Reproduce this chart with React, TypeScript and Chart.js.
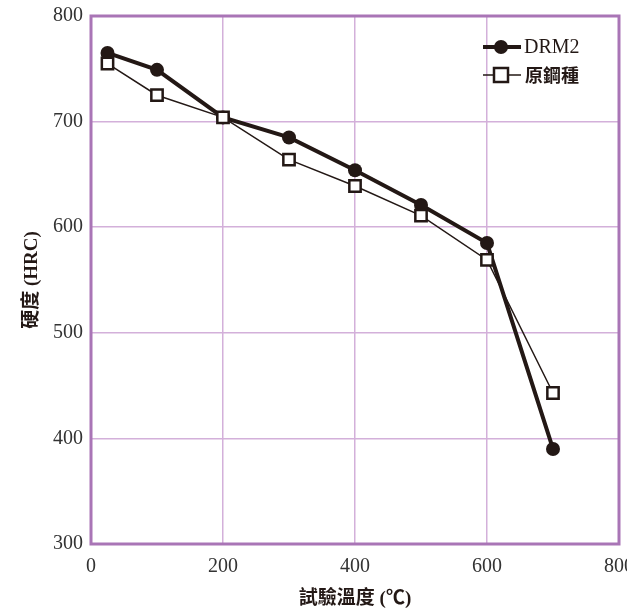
import React, { useEffect, useRef } from "react";
import { Chart, registerables } from "chart.js";

Chart.register(...registerables);

const temps = [25, 100, 200, 300, 400, 500, 600, 700];
const drm2 = [765, 749, 704, 685, 654, 621, 585, 390];
const original = [755, 725, 704, 664, 639, 611, 569, 443];
const seriesNames = ["DRM2", "原鋼種"];
const xTitle = "試驗溫度 (℃)";
const yTitle = "硬度 (HRC)";

const INK = "#231815";
const GRID = "#d3b0da";
const BORDER = "#a975b6";
const SERIF = "'Liberation Serif', 'Noto Sans CJK TC', serif";

export default function App() {
  const ref = useRef<HTMLCanvasElement>(null);

  useEffect(() => {
    if (!ref.current) return;
    const frame = {
      id: "frame",
      afterDatasetsDraw(chart: any) {
        const { ctx, chartArea: a } = chart;
        ctx.save();
        ctx.strokeStyle = BORDER;
        ctx.lineWidth = 3;
        ctx.strokeRect(a.left, a.top, a.right - a.left, a.bottom - a.top);
        // legend
        const lx1 = 483, lx2 = 521, mx = 501;
        const rows = [47, 75];
        ctx.strokeStyle = INK;
        ctx.lineWidth = 4;
        ctx.beginPath();
        ctx.moveTo(lx1, rows[0]);
        ctx.lineTo(lx2, rows[0]);
        ctx.stroke();
        ctx.fillStyle = INK;
        ctx.beginPath();
        ctx.arc(mx, rows[0], 7, 0, Math.PI * 2);
        ctx.fill();
        ctx.lineWidth = 1.5;
        ctx.beginPath();
        ctx.moveTo(lx1, rows[1]);
        ctx.lineTo(lx2, rows[1]);
        ctx.stroke();
        ctx.fillStyle = "#fff";
        ctx.lineWidth = 2.5;
        ctx.fillRect(mx - 7, rows[1] - 7, 14, 14);
        ctx.strokeRect(mx - 7, rows[1] - 7, 14, 14);
        ctx.fillStyle = INK;
        ctx.textBaseline = "middle";
        ctx.textAlign = "left";
        ctx.font = "20px 'Liberation Serif', serif";
        ctx.fillText(seriesNames[0], 524, rows[0] + 1);
        ctx.font = "bold 18px 'Noto Sans CJK TC', serif";
        ctx.fillText(seriesNames[1], 525, rows[1]);
        ctx.restore();
      },
    };

    const chart = new Chart(ref.current, {
      type: "line",
      data: {
        labels: temps,
        datasets: [
          {
            label: seriesNames[1],
            data: temps.map((t, i) => ({ x: t, y: original[i] })),
            borderColor: INK,
            borderWidth: 1.5,
            pointStyle: "rect",
            pointRadius: 8,
            pointBackgroundColor: "#fff",
            pointBorderColor: INK,
            pointBorderWidth: 2.5,
            tension: 0,
          },
          {
            label: seriesNames[0],
            data: temps.map((t, i) => ({ x: t, y: drm2[i] })),
            borderColor: INK,
            borderWidth: 4,
            pointStyle: "circle",
            pointRadius: 7,
            pointBackgroundColor: INK,
            pointBorderColor: INK,
            pointBorderWidth: 0,
            tension: 0,
          },
        ],
      },
      options: {
        animation: false,
        responsive: false,
        maintainAspectRatio: false,
        layout: { padding: { top: 16, right: 21, left: 0, bottom: 0 } },
        plugins: { legend: { display: false }, tooltip: { enabled: false } },
        scales: {
          x: {
            type: "linear",
            min: 0,
            max: 800,
            ticks: {
              stepSize: 200,
              color: "#333",
              font: { family: SERIF, size: 20 },
              padding: 11,
            },
            grid: { color: GRID, lineWidth: 1.5, drawTicks: false },
            border: { display: false },
            title: {
              display: true,
              text: xTitle,
              color: INK,
              font: { family: SERIF, size: 19, weight: "bold" },
              padding: { top: 6, bottom: 2 },
            },
            afterFit: (s: any) => {
              s.height = 68;
              s.paddingLeft = 0;
              s.paddingRight = 0;
            },
          },
          y: {
            min: 300,
            max: 800,
            ticks: {
              stepSize: 100,
              color: "#333",
              font: { family: SERIF, size: 20 },
              padding: 8,
            },
            grid: { color: GRID, lineWidth: 1.5, drawTicks: false },
            border: { display: false },
            title: {
              display: true,
              text: yTitle,
              color: INK,
              font: { family: SERIF, size: 19, weight: "bold" },
              padding: { top: 21, bottom: 10 },
            },
            afterFit: (s: any) => {
              s.width = 91;
              s.paddingTop = 0;
              s.paddingBottom = 0;
            },
          },
        },
      },
      plugins: [frame],
    });
    return () => chart.destroy();
  }, []);

  return (
    <div
      style={{
        position: "fixed",
        left: 0,
        top: 0,
        width: 627,
        height: 612,
        overflow: "hidden",
        background: "#fff",
      }}
    >
      <canvas ref={ref} width={640} height={612} style={{ display: "block" }} />
    </div>
  );
}
